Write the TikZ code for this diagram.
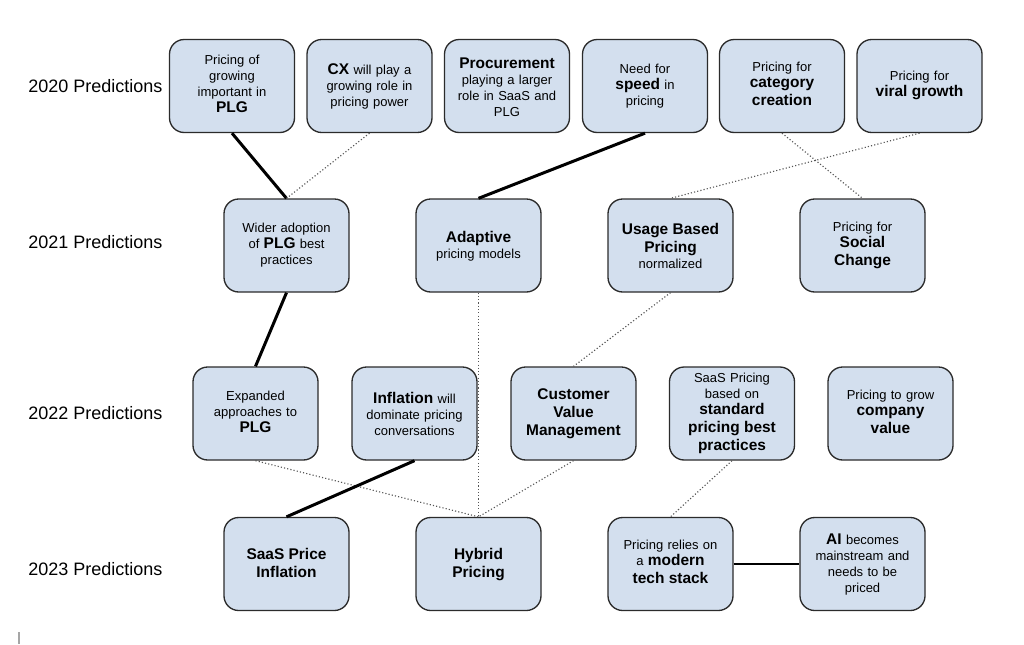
\documentclass[tikz,border=0pt]{standalone}
\usepackage{fontspec}
\setmainfont{Liberation Sans}
\definecolor{boxfill}{HTML}{D3DFEE}
\definecolor{boxline}{HTML}{2B2B2B}
\definecolor{dotline}{HTML}{555555}
\newcommand{\bt}[1]{{\fontsize{11.6}{13.5}\selectfont\bfseries\rule[-3pt]{0pt}{12.5pt}#1}}
\begin{document}
\begin{tikzpicture}[x=0.75pt,y=-0.75pt,
 pbox/.style={draw=boxline, fill=boxfill, line width=1pt, rounded corners=11pt,
   minimum width=93.75pt, minimum height=69.75pt, text width=88pt, align=center, inner sep=2pt,
   font=\fontsize{9.75}{12}\selectfont},
 yearlabel/.style={anchor=west, inner sep=0pt, font=\fontsize{13.5}{16}\selectfont},
 strong/.style={line width=2.25pt, black},
 faint/.style={line width=0.85pt, dotline, dash pattern=on 0.85pt off 1.6pt},
 thinlink/.style={line width=1.1pt, black}]
\useasboundingbox (0,0) rectangle (1024,644);

% year labels
\node[yearlabel] (y20) at (28,86) {2020 Predictions};
\node[yearlabel] (y21) at (28,242) {2021 Predictions};
\node[yearlabel] (y22) at (28,413) {2022 Predictions};
\node[yearlabel] (y23) at (28,569) {2023 Predictions};

% 2020
\node[pbox] (a1) at (232,86) {Pricing of\\growing\\important in\\\bt{PLG}};
\node[pbox] (a2) at (369.5,86) {\bt{CX} will play a\\growing role in\\pricing power};
\node[pbox] (a3) at (507,86) {\bt{Procurement}\\playing a larger\\role in SaaS and\\PLG};
\node[pbox] (a4) at (645,86) {Need for\\\bt{speed} in\\pricing};
\node[pbox] (a5) at (782,86) {Pricing for\\\bt{category}\\\bt{creation}};
\node[pbox] (a6) at (919.5,86) {Pricing for\\\bt{viral growth}};

% 2021
\node[pbox] (b1) at (286.5,245.5) {Wider adoption\\of \bt{PLG} best\\practices};
\node[pbox] (b2) at (478.5,245.5) {\bt{Adaptive}\\pricing models};
\node[pbox] (b3) at (670.5,245.5) {\bt{Usage Based}\\\bt{Pricing}\\normalized};
\node[pbox] (b4) at (862.5,245.5) {Pricing for\\\bt{Social}\\\bt{Change}};

% 2022
\node[pbox] (c1) at (255.5,413.5) {Expanded\\approaches to\\\bt{PLG}};
\node[pbox] (c2) at (414.5,413.5) {\bt{Inflation} will\\dominate pricing\\conversations};
\node[pbox] (c3) at (573.5,413.5) {\bt{Customer}\\\bt{Value}\\\bt{Management}};
\node[pbox] (c4) at (732,413.5) {SaaS Pricing\\based on\\\bt{standard}\\\bt{pricing best}\\\bt{practices}};
\node[pbox] (c5) at (890.5,413.5) {Pricing to grow\\\bt{company}\\\bt{value}};

% 2023
\node[pbox] (d1) at (286.5,564) {\bt{SaaS Price}\\\bt{Inflation}};
\node[pbox] (d2) at (478.5,564) {\bt{Hybrid}\\\bt{Pricing}};
\node[pbox] (d3) at (670.5,564) {Pricing relies on\\a \bt{modern}\\\bt{tech stack}};
\node[pbox] (d4) at (862.5,564) {\bt{AI} becomes\\mainstream and\\needs to be\\priced};

% connectors
\draw[strong] (a1.south) -- (b1.north);
\draw[faint] (a2.south) -- (b1.north);
\draw[strong] (a4.south) -- (b2.north);
\draw[faint] (a5.south) -- (b4.north);
\draw[faint] (a6.south) -- (b3.north);
\draw[strong] (b1.south) -- (c1.north);
\draw[faint] (b2.south) -- (d2.north);
\draw[faint] (b3.south) -- (c3.north);
\draw[faint] (c1.south) -- (d2.north);
\draw[strong] (c2.south) -- (d1.north);
\draw[faint] (c3.south) -- (d2.north);
\draw[faint] (c4.south) -- (d3.north);
\draw[thinlink] (d3.east) -- (d4.west);

% edge mark at lower left
\draw[gray!70, line width=1.5pt] (19,632) -- (19,644);
\end{tikzpicture}
\end{document}
